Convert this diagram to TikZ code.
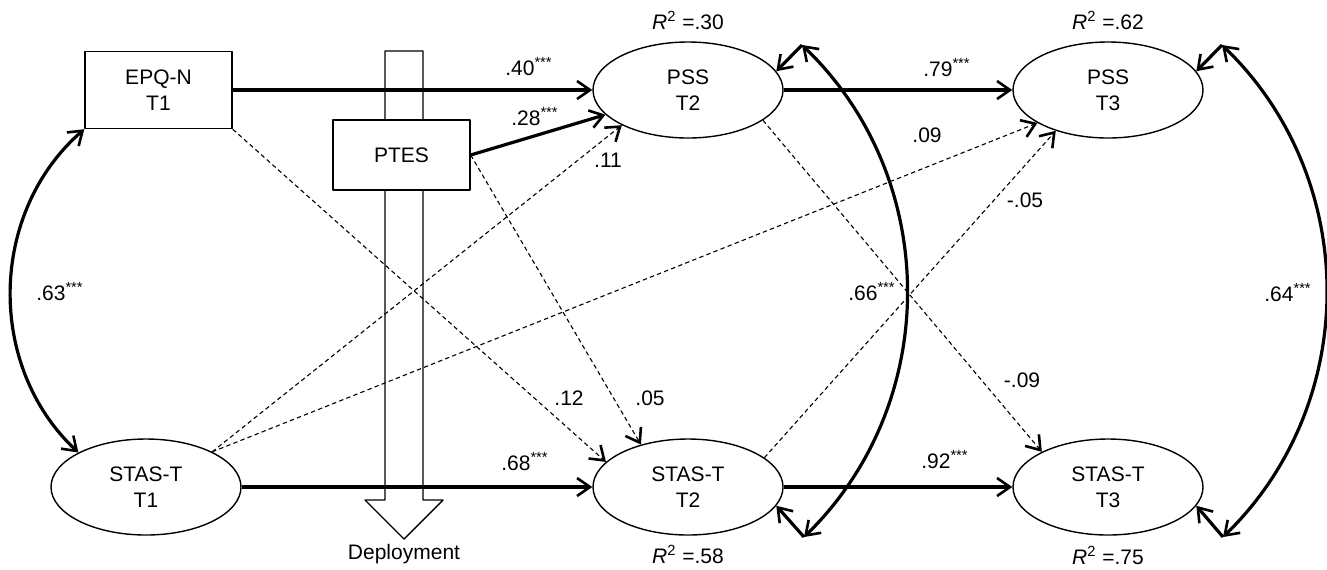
\documentclass[tikz,border=0pt]{standalone}
\usepackage{fontspec}
\setmainfont{Liberation Sans}
\usetikzlibrary{arrows.meta,shapes.geometric}
\begin{document}
\begin{tikzpicture}[x=.5pt,y=-.5pt,line join=round,
  font=\fontsize{10.5}{13}\selectfont,
  >={Straight Barb[length=6.5pt,width=9pt,line width=1.3pt]},
  latent/.style={draw,ellipse,line width=.7pt,minimum width=95pt,
    minimum height=48pt,inner sep=0pt,align=center},
  observed/.style={draw,fill=white,line width=.7pt,inner sep=0pt,align=center},
  sig/.style={->,line width=1.6pt},
  nonsig/.style={->,line width=.55pt,dash pattern=on 2.2pt off 1.6pt},
  covar/.style={<->,line width=1.6pt}]
  \useasboundingbox (0,0) rectangle (1327,569);
  % deployment arrow
  \draw[line width=.7pt,fill=white] (385,51) -- (385,500) -- (365,500) -- (404,539)
    -- (443,500) -- (423,500) -- (423,51) -- cycle;
  \node (deploy) at (404,554) {Deployment};
  % variables
  \node[observed,minimum width=73.5pt,minimum height=38.5pt] (epq) at (158.5,90) {EPQ-N\\T1};
  \node[observed,minimum width=68.5pt,minimum height=35pt] (ptes) at (401.5,155) {PTES};
  \node[latent] (stas1) at (146,487) {STAS-T\\T1};
  \node[latent] (pss2) at (688,90) {PSS\\T2};
  \node[latent] (stas2) at (688,487) {STAS-T\\T2};
  \node[latent] (pss3) at (1108,90) {PSS\\T3};
  \node[latent] (stas3) at (1108,487) {STAS-T\\T3};
  \node (r2pss2) at (688,20) {\textit{R}\textsuperscript{2} =.30};
  \node (r2pss3) at (1108,20) {\textit{R}\textsuperscript{2} =.62};
  \node (r2stas2) at (688,554) {\textit{R}\textsuperscript{2} =.58};
  \node (r2stas3) at (1108,555) {\textit{R}\textsuperscript{2} =.75};
  % paths
  \draw[sig] (epq.east) -- (pss2.west);
  \draw[sig] (ptes.east) -- (pss2);
  \draw[sig] (stas1.east) -- (stas2.west);
  \draw[sig] (pss2.east) -- (pss3.west);
  \draw[sig] (stas2.east) -- (stas3.west);
  \draw[nonsig] (epq.south east) -- (stas2.163);
  \draw[nonsig] (ptes.east) -- (stas2.138);
  \draw[nonsig] (stas1.28) -- (pss2.208);
  \draw[nonsig] (stas1.28) -- (pss3.205);
  \draw[nonsig] (stas2.21) -- (pss3.218);
  \draw[nonsig] (pss2.338) -- (stas3.152);
  % covariances
  \coordinate (c2t) at (802,45);
  \coordinate (c2b) at (804,537);
  \coordinate (c3t) at (1222,45);
  \coordinate (c3b) at (1223,537);
  \draw[covar] (epq.south west) to[bend right=48] (stas1.153);
  \draw[covar] (c2t) to[bend left=46] (c2b);
  \draw[covar] (c3t) to[bend left=46] (c3b);
  \draw[sig] (c2t) -- (pss2.12);
  \draw[sig] (c2b) -- (stas2.348);
  \draw[sig] (c3t) -- (pss3.12);
  \draw[sig] (c3b) -- (stas3.348);
  % coefficients
  \node (b40) at (529,67) {.40\textsuperscript{***}};
  \node (b28) at (535,117) {.28\textsuperscript{***}};
  \node (b68) at (525,462) {.68\textsuperscript{***}};
  \node (b79) at (947,68) {.79\textsuperscript{***}};
  \node (b92) at (945,460) {.92\textsuperscript{***}};
  \node (b63) at (60,292) {.63\textsuperscript{***}};
  \node (b66) at (872,292) {.66\textsuperscript{***}};
  \node (b64) at (1288,293) {.64\textsuperscript{***}};
  \node (b11) at (608,160) {.11};
  \node (b09) at (927,135) {.09};
  \node (b05n) at (1025,200) {-.05};
  \node (b09n) at (1022,380) {-.09};
  \node (b12) at (569,398) {.12};
  \node (b05) at (650,398) {.05};
\end{tikzpicture}
\end{document}
